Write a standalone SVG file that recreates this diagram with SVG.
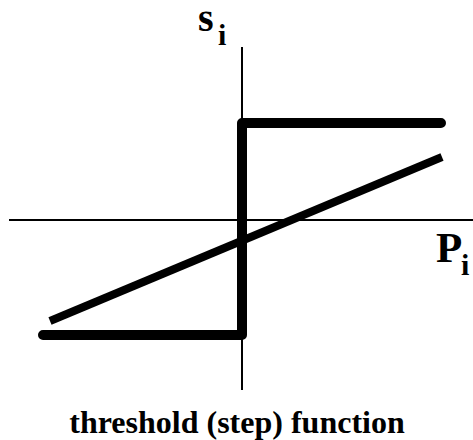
<svg xmlns="http://www.w3.org/2000/svg" width="473" height="440" viewBox="0 0 473 440">
<style>
.axis{stroke:#000;stroke-width:2;fill:none}
.step{stroke:#000;stroke-width:10;fill:none;stroke-linecap:round;stroke-linejoin:round}
.lin{stroke:#000;stroke-width:8;fill:none;stroke-linecap:butt}
</style>
<rect width="473" height="440" fill="#fff"/>
<g id="axes">
<line class="axis" x1="242" y1="47" x2="242" y2="390"/>
<line class="axis" x1="9" y1="220" x2="473" y2="220"/>
</g>
<g id="step">
<polyline class="step" points="441,123 242,123 242,335 43,335"/>
</g>
<g id="linear">
<line class="lin" x1="50" y1="321" x2="442" y2="157"/>
</g>
<g id="labels" font-family="'Liberation Serif', 'Times New Roman', 'DejaVu Serif', serif" font-weight="bold" fill="#000">
<text x="198" y="31" font-size="40">s</text>
<text x="218" y="45" font-size="30">i</text>
<text x="436" y="262" font-size="43">P</text>
<text x="461" y="275" font-size="30">i</text>
<text x="237" y="433" font-size="32" text-anchor="middle">threshold (step) function</text>
</g>
</svg>
